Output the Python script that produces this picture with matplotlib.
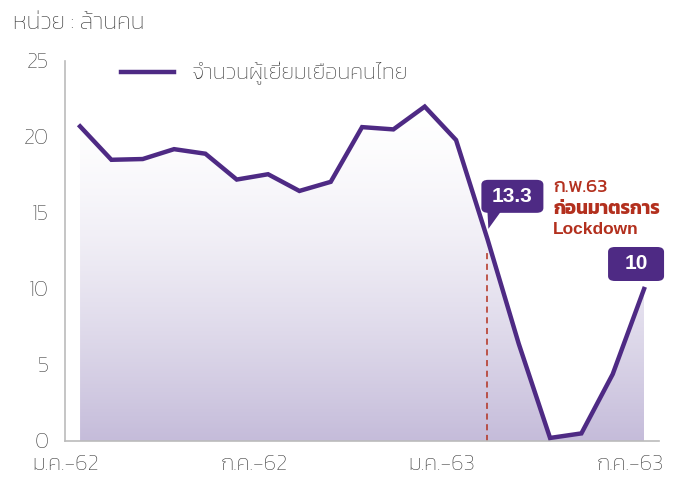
import numpy as np
import matplotlib
matplotlib.use('Agg')
import matplotlib.pyplot as plt
from matplotlib.colors import LinearSegmentedColormap
from matplotlib.patches import FancyBboxPatch, Polygon
import matplotlib.transforms as mtransforms

# จำนวนผู้เยี่ยมเยือนคนไทย (ล้านคน), ม.ค.-62 ถึง ก.ค.-63
months = ['ม.ค.-62', 'ก.พ.-62', 'มี.ค.-62', 'เม.ย.-62', 'พ.ค.-62', 'มิ.ย.-62',
          'ก.ค.-62', 'ส.ค.-62', 'ก.ย.-62', 'ต.ค.-62', 'พ.ย.-62', 'ธ.ค.-62',
          'ม.ค.-63', 'ก.พ.-63', 'มี.ค.-63', 'เม.ย.-63', 'พ.ค.-63', 'มิ.ย.-63', 'ก.ค.-63']
visitors = [20.7, 18.5, 18.55, 19.2, 18.9, 17.2, 17.55, 16.45, 17.05, 20.65,
            20.5, 22.0, 19.8, 13.3, 6.4, 0.2, 0.5, 4.4, 10.0]
shown_ticks = ['ม.ค.-62', 'ก.ค.-62', 'ม.ค.-63', 'ก.ค.-63']
yticks = [0, 5, 10, 15, 20, 25]

PURPLE = '#4e2a84'
RED = '#b3301e'
TEXT = '#3a3a3a'
plt.rcParams['font.family'] = ['Kanit', 'DejaVu Sans']

x = np.arange(len(visitors))
y = np.array(visitors)

fig = plt.figure(figsize=(6.83, 4.86), dpi=100)
ax = fig.add_axes([0.0952, 0.0926, 0.8698, 0.7819])
ax.set_xlim(-0.48, 18.48)
ax.set_ylim(0, 25)

# gradient fill under the line: white near the peak, lavender at the bottom
cmap = LinearSegmentedColormap.from_list('fade', ['#ffffff', '#c5bcda'])
top = y.max()
grad = (np.linspace(1, 0, 256) ** 1.5).reshape(-1, 1)
img = ax.imshow(grad, cmap=cmap, aspect='auto', extent=[x[0], x[-1], 0, top],
                origin='lower', zorder=1)
verts = [(x[0], 0)] + list(zip(x, y)) + [(x[-1], 0)]
clip = Polygon(verts, closed=True, facecolor='none', edgecolor='none')
ax.add_patch(clip)
img.set_clip_path(clip)

ax.plot(x, y, color=PURPLE, lw=3.2, solid_joinstyle='miter', zorder=3,
        label='จำนวนผู้เยี่ยมเยือนคนไทย')

# dashed marker at ก.พ.63
ax.plot([13, 13], [0, 12.5], color=RED, lw=1.1, ls=(0, (4, 3)), zorder=2)

for sp in ['top', 'right']:
    ax.spines[sp].set_visible(False)
for sp in ['left', 'bottom']:
    ax.spines[sp].set_color('#bbbbbb')
    ax.spines[sp].set_linewidth(1.2)

ax.set_yticks(yticks)
ax.set_yticklabels([str(v) for v in yticks])
ax.set_xticks([months.index(m) for m in shown_ticks])
ax.set_xticklabels(shown_ticks)
ax.tick_params(length=0, colors=TEXT, labelsize=16)
ax.tick_params(axis='y', pad=12)
ax.tick_params(axis='x', pad=10)
shift = mtransforms.ScaledTranslation(-14 / 100, 0, fig.dpi_scale_trans)
for lab in ax.get_xticklabels():
    lab.set_transform(lab.get_transform() + shift)
for lab in ax.get_xticklabels() + ax.get_yticklabels():
    lab.set_fontweight('light')

fig.text(0.019, 0.952, 'หน่วย : ล้านคน', fontsize=17, color=TEXT,
         va='center', ha='left', fontweight='light')

leg = ax.legend(loc='upper left', bbox_to_anchor=(0.06, 1.05), frameon=False,
                handlelength=2.4, labelcolor=TEXT,
                prop={'weight': 'light', 'size': 16})


def bubble(xv, yv, text, dx, dy, w, h):
    # rounded label box with small tail pointing at the data point
    ox, oy = ax.transData.transform((xv, yv))
    inv = fig.transFigure.inverted()
    bx, by = ox + dx, oy + dy
    box = FancyBboxPatch(inv.transform((bx, by)), w / 683, h / 486,
                         boxstyle='round,pad=0,rounding_size=0.01',
                         transform=fig.transFigure, facecolor=PURPLE,
                         edgecolor='none', zorder=5)
    fig.patches.append(box)
    tail = [inv.transform((bx + 6, by + 2)), inv.transform((bx + 20, by + 2)),
            inv.transform((ox + 1, oy + 10))]
    fig.patches.append(Polygon(tail, closed=True, transform=fig.transFigure,
                               facecolor=PURPLE, edgecolor='none', zorder=5))
    fig.text(*inv.transform((bx + w / 2, by + h / 2)), text, color='white',
             fontsize=15, fontweight='bold', ha='center', va='center',
             family=['Liberation Sans', 'DejaVu Sans'], zorder=6)


bubble(13, visitors[13], '13.3', -6, 26, 62, 33)
bubble(18, visitors[18], '10', -36, 8, 56, 34)

ax.text(15.1, 16.7, 'ก.พ.63', color=RED, fontsize=14, ha='left', va='center')
ax.text(15.1, 15.2, 'ก่อนมาตรการ', color=RED, fontsize=13.5, ha='left', va='center',
        fontweight='bold')
ax.text(15.1, 13.9, 'Lockdown', color=RED, fontsize=12.5, ha='left', va='center',
        fontweight='bold', family=['Liberation Sans', 'DejaVu Sans'])

fig.savefig('out.png', dpi=100)
